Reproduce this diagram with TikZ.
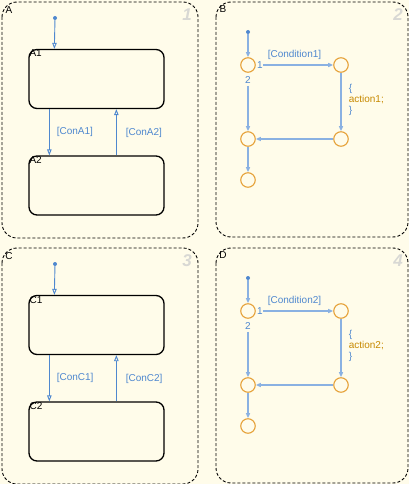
\documentclass[tikz,border=0pt]{standalone}
\usepackage{fontspec}
\setmainfont{Liberation Sans}
\usetikzlibrary{arrows.meta}
\definecolor{chartbg}{HTML}{FFFCEA}
\definecolor{trans}{HTML}{4F88CF}
\definecolor{flow}{HTML}{8AB1E2}
\definecolor{junc}{HTML}{E6A23A}
\definecolor{actn}{HTML}{C78900}
\definecolor{pnumc}{HTML}{D8D8D4}
\begin{document}
\begin{tikzpicture}[x=1pt,y=-1pt,
    every node/.style={font=\fontsize{10}{11}\selectfont,inner sep=1pt},
    chart/.style={draw,dash pattern=on 3pt off 2pt,rounded corners=15pt,line width=.9pt},
    state/.style={draw,line width=1.3pt,rounded corners=8pt,minimum width=135pt,minimum height=59pt},
    junction/.style={draw=junc,circle,line width=1.1pt,minimum size=14.5pt,inner sep=0pt},
    dflt/.style={fill=trans,circle,inner sep=0pt,minimum size=4pt},
    tr/.style={draw=trans,line width=.9pt,-{Triangle[open,length=6pt,width=4.5pt]}},
    fl/.style={draw=flow,line width=1.6pt,-{Triangle[open,length=5pt,width=4pt]}},
    lbl/.style={text=trans},
    pnum/.style={text=pnumc,font=\fontsize{17}{17}\selectfont\bfseries\itshape}]
    \fill[chartbg] (0,0) rectangle (409,484);
    \useasboundingbox (0,0) rectangle (409,484);
    % state charts A and C
    \foreach \p/\n/\dy in {A/1/0,C/3/246} {
        \draw[chart] (2,2+\dy) rectangle (198,238+\dy);
        \node (\p-name) at (9,10+\dy) {\p};
        \node[pnum] (\p-num) at (187,15+\dy) {\n};
        \node[dflt] (\p0) at (55,18+\dy) {};
        \node[state] (\p1) at (96.5,79+\dy) {};
        \node[state] (\p2) at (96.5,185.5+\dy) {};
        \node[anchor=north west] (\p1-name) at (\p1.north west) {\p1};
        \node[anchor=north west] (\p2-name) at (\p2.north west) {\p2};
        \draw[tr] (\p0) -- ([xshift=26pt]\p1.north west);
        \draw[tr] ([xshift=21pt]\p1.south west) --
            node[lbl,right=6pt] (\p-c1) {[Con\p1]} ([xshift=21pt]\p2.north west);
        \draw[tr] ([xshift=88pt]\p2.north west) --
            node[lbl,right=8pt,yshift=-1pt] (\p-c2) {[Con\p2]} ([xshift=88pt]\p1.south west);
    }
    % flow charts B and D
    \foreach \p/\n/\k/\dy in {B/2/1/0,D/4/2/246} {
        \draw[chart] (216,2+\dy) rectangle (408,237+\dy);
        \node (\p-name) at (223,9+\dy) {\p};
        \node[pnum] (\p-num) at (398,15+\dy) {\n};
        \node[dflt] (\p0) at (248,32+\dy) {};
        \node[junction] (\p-j1) at (248,65+\dy) {};
        \node[junction] (\p-j2) at (341,65+\dy) {};
        \node[junction] (\p-j3) at (341,139+\dy) {};
        \node[junction] (\p-j4) at (248,139+\dy) {};
        \node[junction] (\p-j5) at (248,180+\dy) {};
        \node[lbl,anchor=west] (\p-o1) at (\p-j1.east) {1};
        \node[lbl] (\p-o2) at ([yshift=-7pt]\p-j1.south) {2};
        \draw[fl] (\p0) -- (\p-j1);
        \draw[fl,shorten <=7.5pt] (\p-j1) --
            node[lbl,above=4pt] (\p-cond) {[Condition\k]} (\p-j2);
        \draw[fl] (\p-j2) --
            node[lbl,right=6pt,align=left,yshift=2pt] (\p-act) {\{\\\textcolor{actn}{action\k;}\\\}} (\p-j3);
        \draw[fl] (\p-j3) -- (\p-j4);
        \draw[fl,shorten <=13pt] (\p-j1) -- (\p-j4);
        \draw[fl] (\p-j4) -- (\p-j5);
    }
\end{tikzpicture}
\end{document}
